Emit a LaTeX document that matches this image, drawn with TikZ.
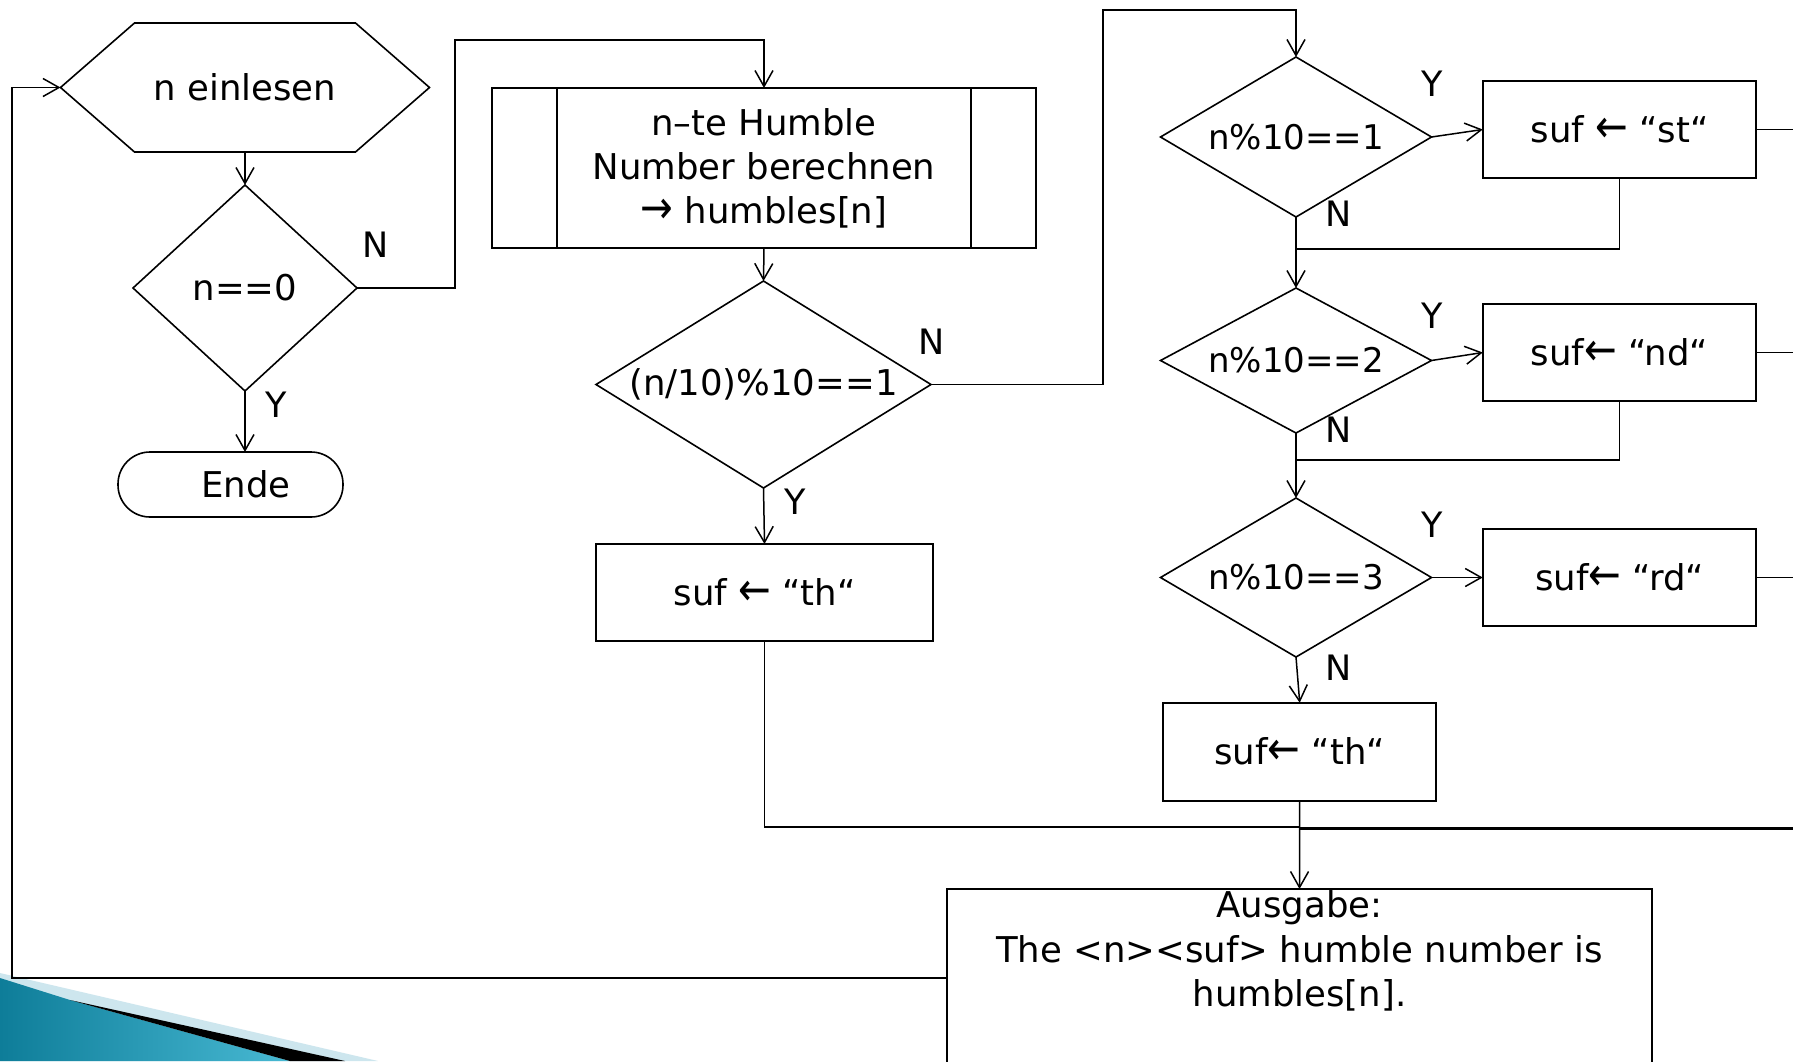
\documentclass[tikz,border=0pt]{standalone}
\usepackage{graphicx}
\usepackage{fontspec}
\setmainfont{DejaVu Sans}
\usetikzlibrary{shapes.geometric, arrows.meta, calc}
\definecolor{tealA}{HTML}{0E7D99}
\definecolor{tealB}{HTML}{48B9D3}
\definecolor{paleband}{HTML}{CDE6EE}
\newcommand{\larr}{\scalebox{1.1}[1.3]{←}}
\newcommand{\rarr}{\scalebox{1.1}[1.3]{→}}
\begin{document}
\begin{tikzpicture}[x=1pt, y=-1pt,
  base/.style={font=\fontsize{35.5}{44}\selectfont, outer sep=0pt, line width=1.6pt},
  box/.style={base, draw, rectangle, inner sep=0pt, align=center},
  dec/.style={base, draw, diamond, inner sep=0pt},
  rdec/.style={dec, font=\fontsize{34}{40}\selectfont},
  lbl/.style={font=\fontsize{35}{40}\selectfont, inner sep=0pt},
  con/.style={line width=1.5pt},
  arr/.style={con, -{Straight Barb[length=16pt, width=18pt]}},
  thickcon/.style={line width=3.6pt},
]
\useasboundingbox (0,0) rectangle (1793,1061);
\clip (0,0) rectangle (1793,1061);
\fill[white] (0,0) rectangle (1793,1061);

% corner decoration
\fill[paleband] (0,973) -- (378,1061) -- (0,1061) -- cycle;
\shade[left color=tealA, right color=tealB] (0,978) -- (70,1000) -- (290,1061) -- (0,1061) -- cycle;
\fill[black] (70,1000) -- (345,1061) -- (290,1061) -- cycle;

% left column
\node[base, minimum width=369pt, minimum height=129pt, inner sep=0pt] (inp) at (245,87.5) {n einlesen};
\draw[line width=1.6pt] (inp.west) -- ([xshift=74pt]inp.north west) -- ([xshift=-74pt]inp.north east)
  -- (inp.east) -- ([xshift=-74pt]inp.south east) -- ([xshift=74pt]inp.south west) -- cycle;
\node[dec, minimum width=224pt, minimum height=206pt, aspect=1.09] (d0) at (245,288) {n==0};
\node[box, rounded corners=32pt, minimum width=225pt, minimum height=65pt] (ende) at (230.5,484.5) {\hspace*{31pt}Ende};

% middle column
\node[box, minimum width=544pt, minimum height=160pt] (hum) at (764,168) {n–te Humble\\Number berechnen\\\rarr\ humbles[n]};
\draw[line width=1.6pt] ([xshift=65pt]hum.north west) -- ([xshift=65pt]hum.south west);
\draw[line width=1.6pt] ([xshift=-65pt]hum.north east) -- ([xshift=-65pt]hum.south east);
\node[dec, minimum width=335pt, minimum height=207pt, aspect=1.62] (dm) at (763.5,384.5) {(n/10)\%10==1};
\node[box, minimum width=337pt, minimum height=97pt] (th1) at (764.5,592.5) {suf \larr\ “th“};

% right column
\node[rdec, minimum width=271pt, minimum height=160pt, aspect=1.69] (d1) at (1296,137) {n\%10==1};
\node[rdec, minimum width=271pt, minimum height=145pt, aspect=1.69] (d2) at (1296,360.5) {n\%10==2};
\node[rdec, minimum width=271pt, minimum height=159pt, aspect=1.69] (d3) at (1296,577.5) {n\%10==3};
\node[box, minimum width=273.5pt, minimum height=97pt] (s1) at (1619.5,129.5) {suf \larr\ “st“};
\node[box, minimum width=273.5pt, minimum height=97pt] (s2) at (1619.5,352.5) {suf\larr\ “nd“};
\node[box, minimum width=273.5pt, minimum height=97pt] (s3) at (1619.5,577.5) {suf\larr\ “rd“};
\node[box, minimum width=273pt, minimum height=98pt] (th2) at (1299.7,751.7) {suf\larr\ “th“};
\node[box, minimum width=705pt, minimum height=260pt] (out) at (1299.5,1019) {};
\node[font=\fontsize{35.5}{44.5}\selectfont, align=center, inner sep=0pt] (outtxt) at (1299.5,951)
  {Ausgabe:\\The <n><suf> humble number is\\humbles[n].};

% labels
\node[lbl] (n0) at (375.5,245) {N};
\node[lbl] (y0) at (276.5,404.5) {Y};
\node[lbl] (nm) at (931.5,341.5) {N};
\node[lbl] (ym) at (795,501.5) {Y};
\node[lbl] (y1) at (1432,84) {Y};
\node[lbl] (n1) at (1339,214) {N};
\node[lbl] (y2) at (1432,316) {Y};
\node[lbl] (n2) at (1339,430) {N};
\node[lbl] (y3) at (1432,525) {Y};
\node[lbl] (n3) at (1339,668) {N};

% helper coordinates
\coordinate (c1) at (455,40);
\coordinate (c2) at (1103,10);
\coordinate (c3) at (12,87.5);
\coordinate (j1) at (1296,249);
\coordinate (j2) at (1296,460);
\coordinate (j3) at (1299.5,827);
\coordinate (rx) at (1793,0);
\coordinate (e4) at (1793,828.5);

% connectors
\draw[arr] (inp.south) -- (d0.north);
\draw[arr] (d0.south) -- (d0.south |- ende.north);
\draw[arr] (d0.east) -| (c1) -| (hum.north);
\draw[arr] (hum.south) -- (dm.north);
\draw[arr] (dm.south) -- (th1.north);
\draw[arr] (dm.east) -| (c2) -| (d1.north);
\draw[arr] (d1.east) -- (s1.west);
\draw[arr] (d1.south) -- (d2.north);
\draw[con] (s1.south) |- (j1);
\draw[arr] (d2.east) -- (s2.west);
\draw[arr] (d2.south) -- (d3.north);
\draw[con] (s2.south) |- (j2);
\draw[arr] (d3.east) -- (s3.west);
\draw[arr] (d3.south) -- (th2.north);
\draw[con] (th1.south) |- (j3);
\draw[arr] (th2.south) -- (out.north);
\draw[thickcon] ([yshift=-1.5pt]j3) -- (e4);
\draw[con] (s1.east) -- (s1.east -| rx);
\draw[con] (s2.east) -- (s2.east -| rx);
\draw[con] (s3.east) -- (s3.east -| rx);
\draw[arr] ([yshift=-89pt]out.north west) -| (c3) -- (inp.west);
\end{tikzpicture}
\end{document}
